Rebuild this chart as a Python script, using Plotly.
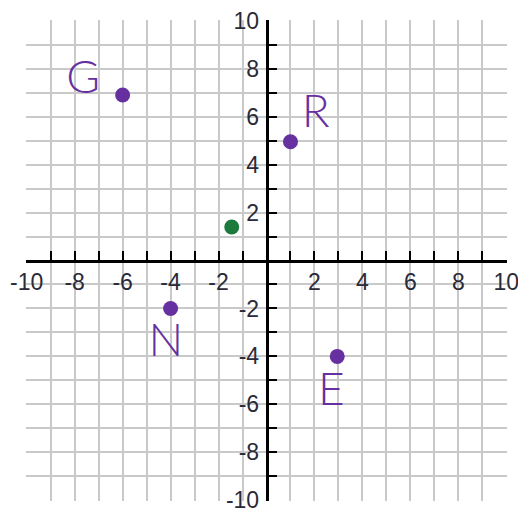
import plotly.graph_objects as go

# Labelled points (purple) and the unlabelled point (green)
point_names = ["G", "R", "N", "E"]
point_x = [-6, 1, -4, 2.95]
point_y = [6.9, 4.95, -2, -4]

extra_x = [-1.45]
extra_y = [1.4]

# Handwritten-style letters next to each point
letter_x = [-7.65, 2.05, -4.2, 2.7]
letter_y = [7.45, 6.05, -3.5, -5.55]

# Axis extent and labelled ticks
axis_min, axis_max = -10, 10
pad = 0.03  # keeps the edge gridlines inside the drawn range
tick_values = [-10, -8, -6, -4, -2, 2, 4, 6, 8, 10]
tick_text = [str(v) for v in tick_values]

PURPLE = "#6630a0"
GREEN = "#1c7a3c"
GRID = "#c9c9c9"
LABEL_FONT = dict(family="Liberation Sans, Arial, sans-serif", size=23, color="#2a2a38")

fig = go.Figure()

fig.add_trace(go.Scatter(
    x=point_x, y=point_y, mode="markers",
    marker=dict(size=15, color=PURPLE, line=dict(width=0)),
    hoverinfo="skip", showlegend=False,
))
fig.add_trace(go.Scatter(
    x=extra_x, y=extra_y, mode="markers",
    marker=dict(size=15, color=GREEN, line=dict(width=0)),
    hoverinfo="skip", showlegend=False,
))
fig.add_trace(go.Scatter(
    x=letter_x, y=letter_y, mode="text", text=point_names,
    textfont=dict(family="Lato, Noto Sans, sans-serif", size=46, weight=300, color=PURPLE),
    textposition="middle center",
    hoverinfo="skip", showlegend=False,
))

axis_common = dict(
    range=[axis_min - pad, axis_max + pad],
    tickmode="array", tickvals=tick_values, ticktext=tick_text,
    tickfont=LABEL_FONT, ticklabeloverflow="allow",
    ticks="inside", ticklen=9, tickwidth=2, tickcolor="black",
    showgrid=True, gridcolor=GRID, gridwidth=2,
    minor=dict(tickmode="linear", tick0=0, dtick=1, ticks="inside",
               ticklen=9, tickwidth=2, tickcolor="black",
               showgrid=True, gridcolor=GRID, gridwidth=2),
    showline=True, linecolor="black", linewidth=2.5,
    zeroline=False, anchor="free", position=0.5,
    automargin=False, fixedrange=True,
)

fig.update_layout(
    width=518, height=511,
    margin=dict(l=26, r=11, t=20, b=10),
    paper_bgcolor="white", plot_bgcolor="white",
    xaxis=dict(**axis_common, side="bottom", ticklabelstandoff=0),
    yaxis=dict(**axis_common, side="left", ticklabelstandoff=2),
)

fig.write_html("out.html")
